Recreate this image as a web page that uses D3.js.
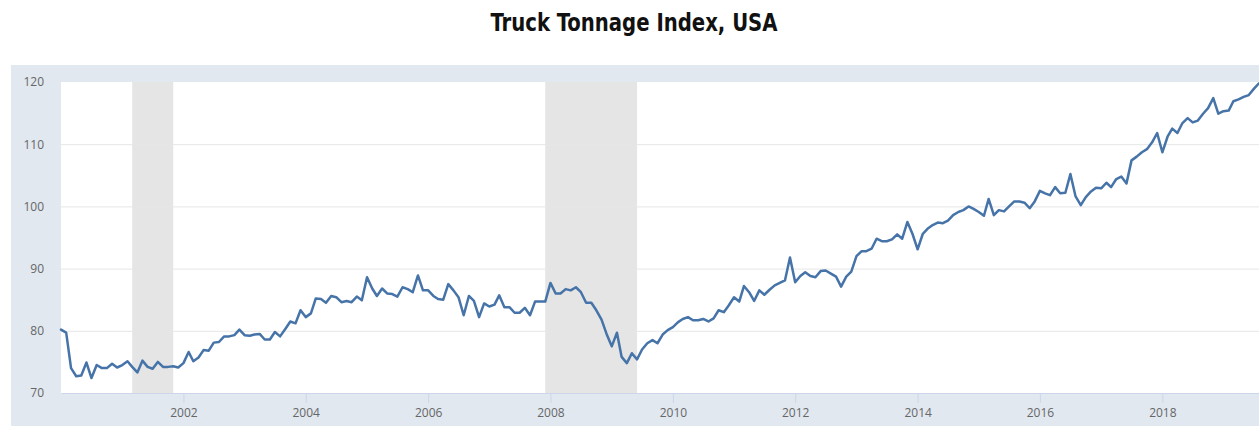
<!DOCTYPE html>
<html>
<head>
<meta charset="utf-8">
<script src="https://cdn.jsdelivr.net/npm/d3@7"></script>
<style>
  html, body { margin: 0; padding: 0; background: #ffffff; }
  svg { display: block; }
</style>
</head>
<body>
<svg id="chart" width="1259" height="426"></svg>
<script>
// ---- Data (monthly, starting January 2000) ----
const startMonth = "2000-01";
const tonnage = [
  // 2000
  80.2, 79.7, 74.0, 72.7, 72.8, 74.9, 72.4, 74.5, 74.0, 74.0, 74.7, 74.1,
  // 2001
  74.5, 75.1, 74.2, 73.3, 75.2, 74.2, 73.9, 75.0, 74.2, 74.2, 74.3, 74.1,
  // 2002
  74.8, 76.6, 75.1, 75.7, 76.9, 76.8, 78.1, 78.2, 79.1, 79.1, 79.3, 80.2,
  // 2003
  79.3, 79.2, 79.4, 79.5, 78.6, 78.6, 79.8, 79.1, 80.3, 81.5, 81.2, 83.3,
  // 2004
  82.2, 82.8, 85.2, 85.1, 84.5, 85.6, 85.4, 84.6, 84.8, 84.6, 85.5, 84.9,
  // 2005
  88.6, 86.8, 85.6, 86.8, 86.0, 85.9, 85.5, 87.0, 86.7, 86.2, 88.9, 86.5,
  // 2006
  86.5, 85.6, 85.1, 85.0, 87.5, 86.5, 85.4, 82.5, 85.6, 84.8, 82.2, 84.4,
  // 2007
  83.9, 84.2, 85.7, 83.8, 83.8, 82.9, 82.9, 83.7, 82.5, 84.7, 84.7, 84.7,
  // 2008
  87.7, 86.0, 86.0, 86.7, 86.5, 87.0, 86.2, 84.5, 84.5, 83.3, 81.8, 79.5,
  // 2009
  77.5, 79.7, 75.8, 74.8, 76.4, 75.4, 77.0, 78.0, 78.5, 78.0, 79.4, 80.1,
  // 2010
  80.6, 81.4, 81.9, 82.2, 81.7, 81.7, 81.9, 81.5, 82.0, 83.3, 83.0, 84.1,
  // 2011
  85.4, 84.7, 87.2, 86.2, 84.8, 86.5, 85.8, 86.6, 87.3, 87.7, 88.1, 91.8,
  // 2012
  87.8, 88.8, 89.4, 88.8, 88.6, 89.6, 89.7, 89.2, 88.7, 87.1, 88.7, 89.5,
  // 2013
  92.0, 92.8, 92.8, 93.2, 94.8, 94.4, 94.4, 94.7, 95.5, 94.8, 97.5, 95.6,
  // 2014
  93.1, 95.6, 96.4, 97.0, 97.4, 97.3, 97.7, 98.6, 99.1, 99.4, 100.0, 99.6,
  // 2015
  99.1, 98.5, 101.2, 98.6, 99.4, 99.2, 100.0, 100.8, 100.8, 100.6, 99.7, 100.8,
  // 2016
  102.5, 102.1, 101.8, 103.1, 102.1, 102.2, 105.2, 101.6, 100.2, 101.5, 102.4, 103.0,
  // 2017
  102.9, 103.8, 103.1, 104.4, 104.8, 103.7, 107.4, 108.0, 108.7, 109.2, 110.3, 111.8,
  // 2018
  108.7, 111.2, 112.5, 111.8, 113.4, 114.2, 113.5, 113.8, 114.9, 115.8, 117.4, 114.9,
  // 2019
  115.3, 115.4, 116.9, 117.2, 117.6, 117.9, 118.9, 119.8
];
const recessionStarts = ["2001-03", "2007-12"];
const recessionEnds   = ["2001-11", "2009-06"];
const xTickYears = [2002, 2004, 2006, 2008, 2010, 2012, 2014, 2016, 2018];
const yTickValues = [70, 80, 90, 100, 110, 120];
const chartTitle = "Truck Tonnage Index, USA";

// ---- Build ----
const parseMonth = d3.timeParse("%Y-%m");
const t0 = parseMonth(startMonth);
const series = tonnage.map((v, i) => ({ date: d3.timeMonth.offset(t0, i), value: v }));
const recessions = recessionStarts.map((s, i) => ({ start: parseMonth(s), end: parseMonth(recessionEnds[i]) }));

const W = 1259, H = 426;
const plot = { left: 61, right: 1259, top: 82, bottom: 393 };

const svg = d3.select("#chart");

// Outer panel
svg.append("rect")
  .attr("x", 11).attr("y", 65)
  .attr("width", W - 11).attr("height", H - 65)
  .attr("fill", "#e1e8f0");

// Plot background
svg.append("rect")
  .attr("x", plot.left).attr("y", plot.top)
  .attr("width", plot.right - plot.left).attr("height", plot.bottom - plot.top)
  .attr("fill", "#ffffff");

const x = d3.scaleTime()
  .domain([t0, parseMonth("2019-08")])
  .range([plot.left, plot.right]);
const y = d3.scaleLinear()
  .domain([70, 120])
  .range([plot.bottom, plot.top]);

// Recession bands
svg.append("g").selectAll("rect")
  .data(recessions).join("rect")
  .attr("x", d => x(d.start))
  .attr("width", d => x(d.end) - x(d.start))
  .attr("y", plot.top)
  .attr("height", plot.bottom - plot.top)
  .attr("fill", "#e5e5e5");

// Gridlines
svg.append("g").selectAll("line")
  .data(yTickValues.filter(v => v > 70 && v < 120)).join("line")
  .attr("x1", plot.left).attr("x2", plot.right)
  .attr("y1", d => y(d) + 0.5).attr("y2", d => y(d) + 0.5)
  .attr("stroke", "#e6e6e6").attr("stroke-width", 1);

// Y axis labels
const yAxis = d3.axisLeft(y).tickValues(yTickValues).tickSize(0).tickPadding(0);
const gy = svg.append("g")
  .attr("transform", `translate(44,0)`)
  .call(yAxis);
gy.select(".domain").remove();
gy.selectAll("text")
  .attr("fill", "#666666")
  .attr("font-family", "'Open Sans', 'DejaVu Sans', sans-serif")
  .attr("font-size", "12px");

// X axis
const xAxis = d3.axisBottom(x)
  .tickValues(xTickYears.map(yr => new Date(yr, 0, 1)))
  .tickFormat(d3.timeFormat("%Y"))
  .tickSizeInner(10).tickSizeOuter(0).tickPadding(5);
const gx = svg.append("g")
  .attr("transform", `translate(0,${plot.bottom})`)
  .call(xAxis);
gx.select(".domain")
  .attr("stroke", "#ccd6eb");
gx.selectAll(".tick line").attr("stroke", "#ccd6eb");
gx.selectAll("text")
  .attr("fill", "#666666")
  .attr("font-family", "'Open Sans', 'DejaVu Sans', sans-serif")
  .attr("font-size", "12px");

// Line
const line = d3.line()
  .x(d => x(d.date))
  .y(d => y(d.value));
svg.append("path")
  .datum(series)
  .attr("d", line)
  .attr("fill", "none")
  .attr("stroke", "#4673a8")
  .attr("stroke-width", 2.5)
  .attr("stroke-linejoin", "round")
  .attr("stroke-linecap", "round");

// Title (condensed look)
svg.append("text")
  .attr("x", 634).attr("y", 31)
  .attr("text-anchor", "middle")
  .attr("font-family", "'Liberation Sans Narrow', 'DejaVu Sans Condensed', 'Roboto', sans-serif")
  .attr("font-weight", "bold")
  .attr("font-size", "24px")
  .attr("textLength", 287)
  .attr("lengthAdjust", "spacingAndGlyphs")
  .attr("fill", "#111111")
  .text(chartTitle);
</script>
</body>
</html>
